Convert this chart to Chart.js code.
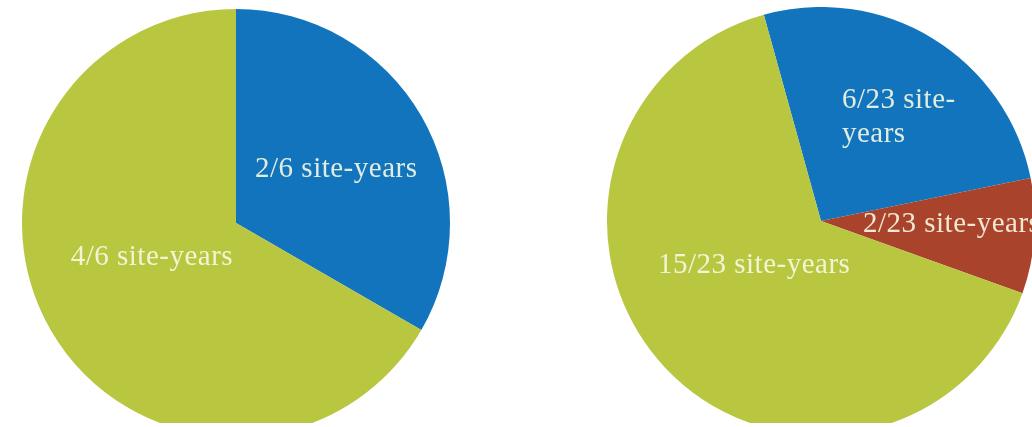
<!DOCTYPE html>
<html>
<head>
<meta charset="utf-8">
<script src="https://cdn.jsdelivr.net/npm/chart.js@4.4.1/dist/chart.umd.min.js"></script>
<style>
  html, body { margin: 0; padding: 0; background: #fff; width: 1032px; height: 427px; overflow: hidden; }
  #clip { position: absolute; left: 0; top: 0; width: 1032px; height: 423px; overflow: hidden; }
  .box { position: absolute; width: 428px; height: 428px; }
  #leftBox { left: 22px; top: 9px; }
  #rightBox { left: 607px; top: 7px; }
</style>
</head>
<body>
<div id="clip">
  <div class="box" id="leftBox"><canvas id="leftChart"></canvas></div>
  <div class="box" id="rightBox"><canvas id="rightChart"></canvas></div>
</div>
<script>
// ---- data ----
const leftCategories = ["2/6 site-years", "4/6 site-years"];
const leftValues = [2, 4];
const rightCategories = ["6/23 site-years", "2/23 site-years", "15/23 site-years"];
const rightValues = [6, 2, 15];

// ---- styling / layout (kept separate from data) ----
const BLUE = "#1174BC", GREEN = "#B9C640", RED = "#A9432B";
const leftColors = [BLUE, GREEN];
const rightColors = [BLUE, RED, GREEN];
// label lines and their offsets from the pie centre, in units of the pie radius
const leftLabelLayout = [
  { lines: ["2/6 site-years"], dx: 0.089, dy: -0.215, align: "left" },
  { lines: ["4/6 site-years"], dx: -0.393, dy: 0.196, align: "center" }
];
const rightLabelLayout = [
  { lines: ["6/23 site-", "years"], dx: 0.098, dy: -0.528, align: "left", lineGap: 0.159 },
  { lines: ["2/23 site-years"], dx: 0.196, dy: 0.051, align: "left" },
  { lines: ["15/23 site-years"], dx: -0.762, dy: 0.243, align: "left" }
];

const sliceLabels = {
  id: "sliceLabels",
  afterDatasetsDraw(chart, args, opts) {
    const meta = chart.getDatasetMeta(0);
    const arc = meta.data[0];
    if (!arc) return;
    const { x, y, outerRadius } = arc.getProps(["x", "y", "outerRadius"], true);
    const ctx = chart.ctx;
    ctx.save();
    ctx.font = "29px 'Liberation Serif', serif";
    if ("letterSpacing" in ctx) ctx.letterSpacing = "0.5px";
    ctx.fillStyle = "rgba(248,250,228,0.9)";
    ctx.textBaseline = "alphabetic";
    opts.layout.forEach(l => {
      ctx.textAlign = l.align;
      l.lines.forEach((t, i) => {
        ctx.fillText(t, x + l.dx * outerRadius, y + (l.dy + i * (l.lineGap || 0)) * outerRadius);
      });
    });
    ctx.restore();
  }
};

function makePie(id, cats, vals, colors, rotation, layout) {
  return new Chart(document.getElementById(id), {
    type: "pie",
    data: {
      labels: cats,
      datasets: [{ data: vals, backgroundColor: colors, borderWidth: 0 }]
    },
    options: {
      responsive: true,
      maintainAspectRatio: false,
      animation: false,
      rotation: rotation,
      layout: { padding: 0 },
      plugins: {
        legend: { display: false },
        tooltip: { enabled: false },
        sliceLabels: { layout: layout }
      }
    },
    plugins: [sliceLabels]
  });
}

makePie("leftChart", leftCategories, leftValues, leftColors, 0, leftLabelLayout);
makePie("rightChart", rightCategories, rightValues, rightColors, -15.5, rightLabelLayout);
</script>
</body>
</html>
